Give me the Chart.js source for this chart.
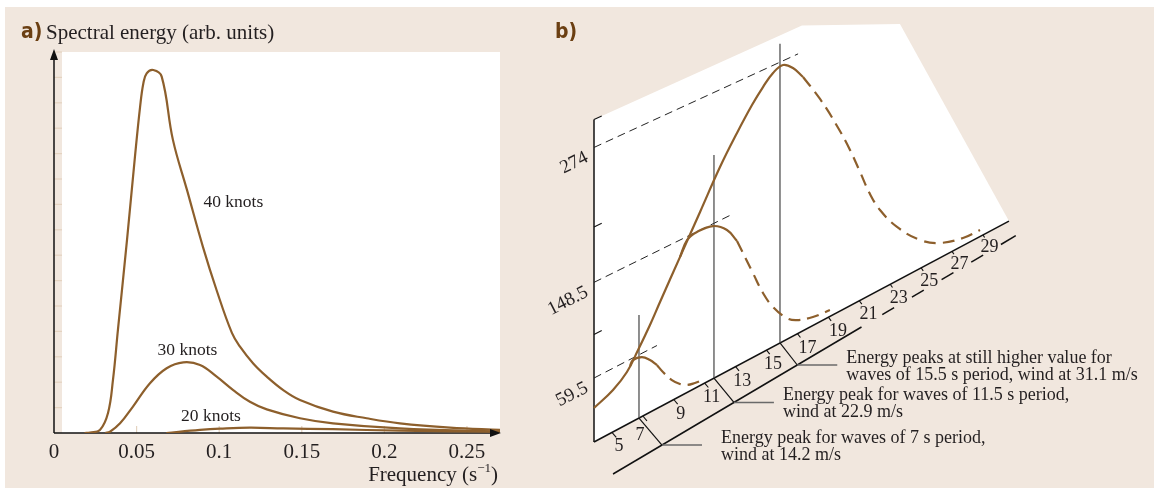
<!DOCTYPE html>
<html>
<head>
<meta charset="utf-8">
<script src="https://cdn.jsdelivr.net/npm/chart.js@4.4.1/dist/chart.umd.min.js"></script>
<style>
  html, body { margin: 0; padding: 0; background: #fff; }
  #page { position: relative; width: 1154px; height: 488px; overflow: hidden; }
  #bg { position: absolute; left: 5px; top: 7px; right: 0; bottom: 0; background: #f1e7de; }
  #chartA { position: absolute; left: 0; top: 0; }
  #chartB { position: absolute; left: 530px; top: 0; }
</style>
</head>
<body>
<div id="page">
  <div id="bg"></div>
  <canvas id="chartA" width="530" height="488"></canvas>
  <canvas id="chartB" width="624" height="488"></canvas>
</div>
<script>
// ---- a) spectral energy vs frequency (s^-1), arbitrary units
const freq40 = [0.0185, 0.0218, 0.0278, 0.0327, 0.0357, 0.0387, 0.0442, 0.049, 0.0521, 0.0541, 0.0561, 0.0601, 0.0652, 0.072, 0.0805, 0.0902, 0.0984, 0.1077, 0.1126, 0.1206, 0.1288, 0.1388, 0.1489, 0.1689, 0.1893, 0.2094, 0.2397, 0.27];
const energy40 = [0, 0.02, 0.12, 0.79, 2.09, 4.06, 7.6, 10.87, 12.83, 13.77, 14.16, 14.29, 14.03, 11.54, 9.57, 7.32, 5.63, 3.94, 3.4, 2.74, 2.22, 1.69, 1.3, 0.84, 0.58, 0.38, 0.21, 0.12];
const freq30 = [0.031, 0.0339, 0.04, 0.0478, 0.0581, 0.0682, 0.0783, 0.0884, 0.0985, 0.1085, 0.1186, 0.1288, 0.1489, 0.1689, 0.2094, 0.27];
const energy30 = [0, 0.05, 0.38, 1.04, 1.96, 2.55, 2.78, 2.68, 2.22, 1.69, 1.23, 0.93, 0.58, 0.38, 0.18, 0.05];
const freq20 = [0.068, 0.0884, 0.1005, 0.1186, 0.1388, 0.1689, 0.2094, 0.27];
const energy20 = [0, 0.12, 0.17, 0.21, 0.18, 0.15, 0.09, 0.05];
const freqTicks = [0, 0.05, 0.1, 0.15, 0.2, 0.25];
const windLabels = ['40 knots', '30 knots', '20 knots'];

// ---- b) energy vs wave period (s), drawn in perspective
const bigPeriod = [3.84, 5.07, 5.97, 6.69, 7.46, 8.11, 9.40, 10.70, 11.99, 13.09, 14.06, 14.77, 15.42, 16.07, 16.71, 17.36];
const bigEnergy = [31.6, 39.2, 49.2, 64.5, 82.3, 99.2, 132.3, 165.9, 199.7, 224.7, 244.9, 257.4, 266.6, 269.9, 262.4, 249.1];
const bigTailPeriod = [17.36, 18.46, 19.56, 20.40, 21.05, 21.69, 22.34, 23.44, 24.93, 26.22, 27.71, 28.81];
const bigTailEnergy = [249.1, 219.6, 184.9, 154.8, 127.9, 101.0, 79.9, 54.1, 28.8, 15.1, 7.7, 6.7];
const midPeriod = [9.40, 9.86, 10.50, 11.54, 12.44, 13.09];
const midEnergy = [132.3, 145.2, 148.2, 146.3, 135.9, 120.5];
const midTailPeriod = [13.09, 14.12, 14.77, 15.42, 16.32, 16.97, 18.0, 19.1];
const midTailEnergy = [120.5, 81.7, 57.3, 38.7, 20.7, 13.6, 8.3, 6.2];
const smallPeriod = [6.17, 6.36, 6.94, 7.46, 7.91];
const smallEnergy = [53.3, 57.5, 55.9, 49.2, 41.1];
const smallTailPeriod = [7.91, 8.30, 8.88, 9.40, 9.86, 10.37, 10.89];
const smallTailEnergy = [41.1, 31.5, 19.4, 11.6, 7.1, 5.0, 3.8];

const periodTicks = [5, 7, 9, 11, 13, 15, 17, 19, 21, 23, 25, 27, 29];
const energyTicks = [100, 200, 300];
const energyLevels = [59.5, 148.5, 274];
const levelEndPeriods = [7.91, 12.77, 17.04];
const peakPeriods = [6.75, 11.6, 15.87];
const peakLineTops = [97, 214, 292];
const peakNotes = [
  ['Energy peak for waves of 7 s period,', 'wind at 14.2 m/s'],
  ['Energy peak for waves of 11.5 s period,', 'wind at 22.9 m/s'],
  ['Energy peaks at still higher value for', 'waves of 15.5 s period, wind at 31.1 m/s']
];

const brown = '#8d5f2c';
const ink = '#231f20';
const serif = '"Liberation Serif", "Times New Roman", serif';
const labelFont = 'bold 21px "Liberation Sans Narrow", "DejaVu Sans Condensed", "Liberation Sans", sans-serif';

function seg(ctx, x1, y1, x2, y2) {
  ctx.beginPath(); ctx.moveTo(x1, y1); ctx.lineTo(x2, y2); ctx.stroke();
}

function curve(points, dashed) {
  return {
    data: points, showLine: true, pointRadius: 0, borderColor: brown,
    borderWidth: 2.2, tension: 0.4,
    borderDash: dashed ? [12, 7] : []
  };
}

// ---------------- panel a
const panelA = {
  id: 'panelA',
  beforeDatasetsDraw(chart) {
    const { ctx, chartArea: a, scales: { x, y } } = chart;
    ctx.save();
    ctx.fillStyle = '#fff';
    ctx.fillRect(a.left + 8, a.top, a.right - a.left - 8, a.bottom - a.top);
    ctx.strokeStyle = '#e4d3c0';
    ctx.lineWidth = 1.2;
    for (let v = 1; v <= 15; v++) {
      const py = y.getPixelForValue(v);
      seg(ctx, a.left, py, a.left + 8, py);
    }
    freqTicks.slice(1).forEach(v => {
      const px = x.getPixelForValue(v);
      seg(ctx, px, a.bottom - 7, px, a.bottom);
    });
    ctx.strokeStyle = '#111';
    ctx.lineWidth = 1.5;
    seg(ctx, a.left, a.bottom, a.left, a.top + 4);
    seg(ctx, a.left, a.bottom, a.right - 4, a.bottom);
    ctx.restore();
  },
  afterDatasetsDraw(chart) {
    const { ctx, chartArea: a, scales: { x, y } } = chart;
    ctx.save();
    ctx.fillStyle = '#111';
    ctx.beginPath();
    ctx.moveTo(a.left, a.top - 3); ctx.lineTo(a.left - 4, a.top + 8); ctx.lineTo(a.left + 4, a.top + 8);
    ctx.fill();
    ctx.beginPath();
    ctx.moveTo(a.right + 1, a.bottom); ctx.lineTo(a.right - 10, a.bottom - 4); ctx.lineTo(a.right - 10, a.bottom + 4);
    ctx.fill();

    ctx.fillStyle = ink;
    ctx.font = '21px ' + serif;
    ctx.textAlign = 'center';
    ctx.textBaseline = 'middle';
    freqTicks.forEach(v => ctx.fillText(String(v), x.getPixelForValue(v), a.bottom + 19));

    // axis title with superscript
    ctx.textAlign = 'left';
    ctx.textBaseline = 'alphabetic';
    const f1 = '21px ' + serif, f2 = '13px ' + serif;
    ctx.font = f1; const w1 = ctx.measureText('Frequency (s').width, w3 = ctx.measureText(')').width;
    ctx.font = f2; const w2 = ctx.measureText('\u22121').width;
    let tx = a.right - 2 - (w1 + w2 + w3);
    const ty = a.bottom + 48;
    ctx.font = f1; ctx.fillText('Frequency (s', tx, ty); tx += w1;
    ctx.font = f2; ctx.fillText('\u22121', tx, ty - 9); tx += w2;
    ctx.font = f1; ctx.fillText(')', tx, ty);

    // curve labels
    ctx.font = '17.5px ' + serif;
    ctx.textAlign = 'center';
    ctx.textBaseline = 'middle';
    const spots = [[0.1086, 9.09], [0.0808, 3.27], [0.095, 0.67]];
    windLabels.forEach((t, i) => ctx.fillText(t, x.getPixelForValue(spots[i][0]), y.getPixelForValue(spots[i][1])));

    // panel title
    ctx.textAlign = 'left';
    ctx.font = labelFont;
    ctx.fillStyle = '#6b3f12';
    ctx.fillText('a)', 21, 33);
    ctx.fillStyle = ink;
    ctx.font = '21px ' + serif;
    ctx.fillText('Spectral energy (arb. units)', 46, 33);
    ctx.restore();
  }
};

new Chart(document.getElementById('chartA'), {
  type: 'scatter',
  data: {
    datasets: [
      curve(freq40.map((f, i) => ({ x: f, y: energy40[i] }))),
      curve(freq30.map((f, i) => ({ x: f, y: energy30[i] }))),
      curve(freq20.map((f, i) => ({ x: f, y: energy20[i] })))
    ]
  },
  options: {
    responsive: false,
    animation: false,
    layout: { padding: { left: 54, right: 30, top: 52, bottom: 55 } },
    plugins: { legend: { display: false }, tooltip: { enabled: false } },
    scales: {
      x: { type: 'linear', min: 0, max: 0.27, display: false },
      y: { type: 'linear', min: 0, max: 15, display: false }
    }
  },
  plugins: [panelA]
});

// ---------------- panel b : oblique projection (period, energy) -> canvas position
const P0 = 3.84, PEND = 30.68;
const OX = 64, OY = 442;
const KX = 15.46, SLOPE0 = 0.5325, SLOPE_E = 0.00027, KE = 1.075;
function proj(p, e) {
  const d = (p - P0) * KX;
  return { x: OX + d, y: OY - (SLOPE0 - SLOPE_E * e) * d - KE * e };
}
function depth(p) {
  return { x: 23 - 0.627 * (p - 6.75), y: 27 - 0.544 * (p - 6.75) };
}
function floorPt(p, q) {
  const a = proj(p, 0), d = depth(p);
  return { x: a.x + q * d.x, y: a.y + q * d.y };
}
const projAll = (ps, es) => ps.map((p, i) => proj(p, es[i]));
const wallOutline = [[P0, 0], [P0, 300], [17.29, 300], [23.63, 257], [PEND, 0]];

const panelB = {
  id: 'panelB',
  beforeDatasetsDraw(chart) {
    const { ctx, scales: { x, y } } = chart;
    const px = pt => [x.getPixelForValue(pt.x), y.getPixelForValue(pt.y)];
    const line = (a, b) => { const A = px(a), B = px(b); seg(ctx, A[0], A[1], B[0], B[1]); };
    ctx.save();
    ctx.fillStyle = '#fff';
    ctx.beginPath();
    wallOutline.forEach((c, i) => {
      const P = px(proj(c[0], c[1]));
      if (i === 0) ctx.moveTo(P[0], P[1]); else ctx.lineTo(P[0], P[1]);
    });
    ctx.closePath();
    ctx.fill();

    ctx.strokeStyle = '#111';
    ctx.lineWidth = 1.5;
    line(proj(P0, 0), proj(P0, 300));
    line(proj(P0, 0), proj(PEND, 0));
    line(floorPt(3.45, 1), floorPt(20.2, 1));
    [22, 24, 26, 28].forEach(c => line(floorPt(c - 0.4, 1), floorPt(c + 0.4, 1)));
    line(floorPt(29.6, 1), floorPt(30.6, 1));

    ctx.lineWidth = 1.1;
    energyTicks.forEach(e => line(proj(P0, e), proj(P0 + 0.5, e)));
    periodTicks.forEach(p => line(floorPt(p, 0), floorPt(p, 0.18)));
    ctx.restore();
  },
  afterDatasetsDraw(chart) {
    const { ctx, scales: { x, y } } = chart;
    const px = pt => [x.getPixelForValue(pt.x), y.getPixelForValue(pt.y)];
    ctx.save();
    ctx.fillStyle = ink;
    ctx.font = '18px ' + serif;
    ctx.textAlign = 'center';
    ctx.textBaseline = 'middle';
    periodTicks.forEach(p => {
      const P = px(floorPt(p, 0.5 + 0.014 * (p - 5)));
      let dx = p <= 15 ? -5 : -1, dy = 0;
      if (peakPeriods.some(m => Math.abs(m - p) < 0.5)) { dx = -15; dy = 5; }
      ctx.fillText(String(p), P[0] + dx, P[1] + dy);
    });

    ctx.textAlign = 'right';
    ctx.font = '19px ' + serif;
    energyLevels.forEach(e => {
      const P = px(proj(P0, e));
      ctx.save();
      ctx.translate(P[0] - 7, P[1] + 9);
      ctx.rotate(-0.47);
      ctx.fillText(String(e), 0, 0);
      ctx.restore();
    });

    ctx.textAlign = 'left';
    ctx.font = '18px ' + serif;
    const textGap = [59, 49, 49];
    peakPeriods.forEach((p, i) => {
      const A = px(floorPt(p, 0)), B = px(floorPt(p, 1));
      ctx.strokeStyle = '#111'; ctx.lineWidth = 1.2;
      seg(ctx, A[0], A[1], B[0], B[1]);
      ctx.strokeStyle = '#6a6a6a'; ctx.lineWidth = 1.5;
      seg(ctx, B[0], B[1], B[0] + 40, B[1]);
      ctx.fillText(peakNotes[i][0], B[0] + textGap[i], B[1] - 7);
      ctx.fillText(peakNotes[i][1], B[0] + textGap[i], B[1] + 10);
    });

    ctx.font = labelFont;
    ctx.fillStyle = '#6b3f12';
    ctx.fillText('b)', 25, 33);
    ctx.restore();
  }
};

const guide = (pts, color, width, dash) => ({
  data: pts, showLine: true, pointRadius: 0, borderColor: color,
  borderWidth: width, borderDash: dash, tension: 0
});

new Chart(document.getElementById('chartB'), {
  type: 'scatter',
  data: {
    datasets: [
      curve(projAll(bigPeriod, bigEnergy)),
      curve(projAll(bigTailPeriod, bigTailEnergy), true),
      curve(projAll(midPeriod, midEnergy)),
      curve(projAll(midTailPeriod, midTailEnergy), true),
      curve(projAll(smallPeriod, smallEnergy)),
      curve(projAll(smallTailPeriod, smallTailEnergy), true),
      ...peakPeriods.map((p, i) => guide([proj(p, 0), proj(p, peakLineTops[i])], '#444', 1.2, [])),
      ...energyLevels.map((e, i) => guide([proj(P0, e), proj(levelEndPeriods[i], e)], '#222', 1, [8, 5]))
    ]
  },
  options: {
    responsive: false,
    animation: false,
    layout: { padding: 0 },
    plugins: { legend: { display: false }, tooltip: { enabled: false } },
    scales: {
      x: { type: 'linear', min: 0, max: 624, display: false },
      y: { type: 'linear', min: 0, max: 488, reverse: true, display: false }
    }
  },
  plugins: [panelB]
});
</script>
</body>
</html>
